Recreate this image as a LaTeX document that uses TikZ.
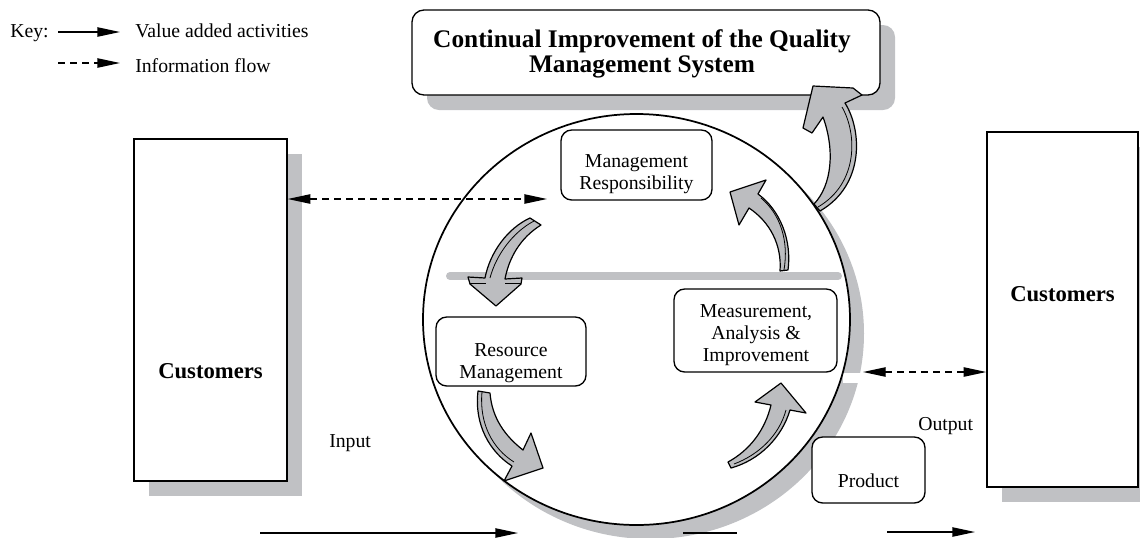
\documentclass[tikz,border=0pt]{standalone}
\usepackage{fontspec}
\setmainfont{Liberation Serif}
\usetikzlibrary{arrows.meta,shapes.geometric}
\definecolor{shadowgray}{RGB}{192,193,196}
\definecolor{arrowgray}{RGB}{188,189,192}
\begin{document}
\begin{tikzpicture}[x=0.75pt,y=-0.75pt,
  txt/.style={font=\fontsize{14.8}{16.5}\selectfont, align=center, inner sep=0},
  bigtxt/.style={font=\fontsize{17}{19}\selectfont\bfseries, inner sep=0},
  cust/.style={draw, line width=1pt, fill=white, inner sep=0},
  rbox/.style={draw, line width=1pt, fill=white, rounded corners=8pt, inner sep=0},
  flow/.style={line width=1pt, -{Triangle[length=17pt,width=7pt]}},
  info/.style={line width=1pt, dash pattern=on 5pt off 4pt, {Triangle[length=17pt,width=7pt]}-{Triangle[length=17pt,width=7pt]}},
  blockarrow/.style={fill=arrowgray, draw=black, line width=0.9pt, line join=round},
  ridge/.style={draw=black, line width=0.6pt}
]
\useasboundingbox (0,0) rectangle (1140,537);
\clip (0,0) rectangle (1140,537);

% key
\node[txt, anchor=base west] (key) at (10,37) {Key:};
\coordinate (k1a) at (58,32);
\coordinate (k1b) at (120,32);
\draw[flow] (k1a) -- (k1b);
\node[txt, anchor=base west] (keyv) at (135,37) {Value added activities};
\coordinate (k2a) at (58,63);
\coordinate (k2b) at (120,63);
\draw[flow, dash pattern=on 5pt off 4pt] (k2a) -- (k2b);
\node[txt, anchor=base west] (keyi) at (135,72) {Information flow};

% title
\fill[shadowgray, rounded corners=9pt] (427,25) rectangle (895,110);
\node[rbox, rounded corners=9pt, minimum width=351pt, minimum height=63.75pt] (title) at (646,52.5) {};
\node[font=\fontsize{19}{18.75}\selectfont\bfseries, align=center, inner sep=0] (titlet) at (642,53.5)
  {Continual Improvement of the Quality\\Management System};

% customers
\fill[shadowgray] (149,154) rectangle (302,496);
\node[cust, minimum width=114.75pt, minimum height=256.5pt] (custL) at (210.5,310) {};
\node[bigtxt, anchor=base] (custLt) at (210.5,378) {Customers};
\fill[shadowgray] (1002,147) rectangle (1140,502);
\node[cust, minimum width=113.25pt, minimum height=266.25pt] (custR) at (1062.5,309.5) {};
\node[bigtxt, anchor=base] (custRt) at (1062.5,301) {Customers};

% circle
\node[ellipse, fill=shadowgray, minimum width=320.25pt, minimum height=308.25pt, inner sep=0] (qmsshadow) at (650.5,333.5) {};
\fill[white] (843,373) rectangle (866,383);
\node[ellipse, fill=white, minimum width=320.25pt, minimum height=308.25pt, inner sep=0] (qmsfill) at (636.5,319.5) {};
\draw[draw=shadowgray, line width=6pt, line cap=round] (450,276) -- (838,276);
\node[ellipse, draw, line width=1.3pt, minimum width=320.25pt, minimum height=308.25pt, inner sep=0] (qms) at (636.5,319.5) {};

% inner boxes
\node[rbox, minimum width=113.25pt, minimum height=52.5pt] (mr) at (636.5,165) {};
\node[txt] (mrt) at (636.5,174.5) {Management\\Responsibility};
\node[rbox, minimum width=112.5pt, minimum height=51.75pt] (rm) at (511,351.5) {};
\node[txt] (rmt) at (511,363) {Resource\\Management};
\node[rbox, minimum width=122.25pt, minimum height=62.25pt] (mai) at (755.5,330.5) {};
\node[txt] (mait) at (756,335.5) {Measurement,\\Analysis \&\\Improvement};
\node[rbox, minimum width=84.75pt, minimum height=49.5pt] (prod) at (868.5,470) {};
\node[txt, anchor=base] (prodt) at (868.5,487) {Product};

% labels
\node[txt, anchor=base west] (input) at (329,447) {Input};
\node[txt, anchor=base west] (output) at (918,430) {Output};

% information flows
\coordinate (mrin) at (547,199);
\draw[info] (custL.east |- mrin) -- (mrin);
\coordinate (maiout) at (863,372);
\draw[info] (maiout) -- (maiout -| custR.west);

% value flows
\coordinate (in1) at (260,533);
\coordinate (in2) at (518,533);
\draw[flow] (in1) -- (in2);
\coordinate (mid1) at (683,533);
\coordinate (mid2) at (737,533);
\draw[line width=1pt] (mid1) -- (mid2);
\coordinate (out1) at (887,532);
\coordinate (out2) at (975,532);
\draw[flow] (out1) -- (out2);

% block arrows
\draw[blockarrow] (530,218) .. controls (508,228) and (490,252) .. (485,278) -- (468,277) -- (470,284) -- (496,306) -- (521,284) -- (522,278) -- (505,279) .. controls (509,258) and (520,238) .. (541,225) -- cycle;
\draw[ridge] (534,221) .. controls (513,232) and (496,255) .. (490,278);
\draw[ridge] (470,283) -- (486,283) (505,283) -- (521,283);

\draw[blockarrow] (478,391) .. controls (474,425) and (490,452) .. (512,466) -- (504,481) -- (543,468) -- (531,433) -- (523,450) .. controls (505,436) and (492,418) .. (490,393) -- cycle;
\draw[ridge] (482,392) .. controls (479,424) and (493,449) .. (514,462);

\draw[blockarrow] (728,462) .. controls (750,450) and (765,430) .. (771,405) -- (755,402) -- (781,383) -- (806,413) -- (790,410) .. controls (782,437) and (760,460) .. (731,468) -- cycle;
\draw[ridge] (734,464) .. controls (758,455) and (779,436) .. (786,410);

\draw[blockarrow] (780,271) .. controls (782,245) and (770,222) .. (749,208) -- (739,225) -- (730,192) -- (766,180) -- (758,194) .. controls (780,210) and (792,240) .. (788,270) -- cycle;
\draw[ridge] (761,198) .. controls (780,214) and (789,240) .. (784,270);

\draw[blockarrow] (814,204) .. controls (832,185) and (835,150) .. (823,117) -- (812,133) -- (803,128) -- (813,86) -- (853,88) -- (862,95) -- (845,103) .. controls (862,130) and (865,185) .. (820,211) -- cycle;
\draw[ridge] (842,107) .. controls (857,133) and (859,183) .. (818,207);
\end{tikzpicture}
\end{document}
